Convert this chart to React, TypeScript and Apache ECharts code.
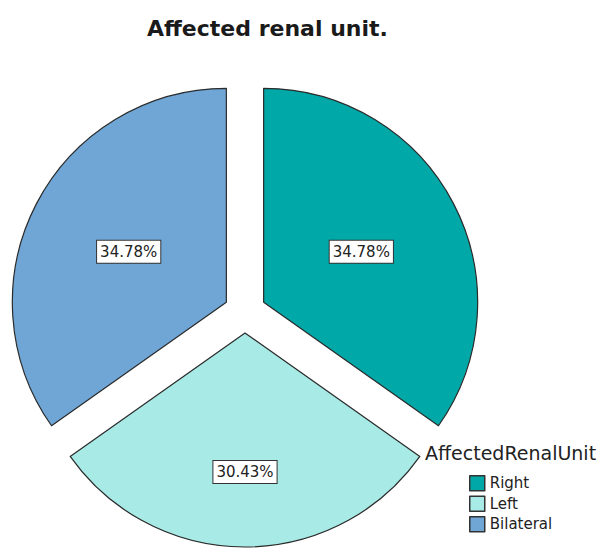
import React, { useEffect, useRef } from "react";
import * as echarts from "echarts";

const categories = ["Right", "Left", "Bilateral"];
const counts = [8, 7, 8];
const colors = ["#00A8A8", "#A8EAE6", "#6FA6D6"];
const chartTitle = "Affected renal unit.";
const legendTitle = "AffectedRenalUnit";

export default function App() {
  const ref = useRef<HTMLDivElement>(null);
  useEffect(() => {
    if (!ref.current) return;
    const chart = echarts.init(ref.current, null, { renderer: "svg" });
    const total = counts.reduce((a, b) => a + b, 0);
    chart.setOption({
      animation: false,
      backgroundColor: "#ffffff",
      title: {
        text: chartTitle,
        left: 147,
        top: 17,
        padding: 0,
        textStyle: {
          fontFamily: "DejaVu Sans",
          fontSize: 22,
          fontWeight: "bold",
          color: "#1a1a1a",
        },
      },
      graphic: [
        {
          type: "text",
          left: 425,
          top: 443,
          style: {
            text: legendTitle,
            font: "19px DejaVu Sans",
            fill: "#222222",
          },
        },
      ],
      legend: {
        orient: "vertical",
        left: 469,
        top: 475,
        padding: 0,
        itemWidth: 15,
        itemHeight: 15,
        itemGap: 4,
        icon: "rect",
        selectedMode: false,
        data: categories,
        itemStyle: { borderColor: "#333333", borderWidth: 1.5 },
        textStyle: {
          fontFamily: "DejaVu Sans",
          fontSize: 15,
          lineHeight: 15,
          color: "#222222",
        },
      },
      series: [
        {
          type: "pie",
          center: [245, 312],
          radius: 214,
          startAngle: 90,
          clockwise: true,
          selectedMode: "multiple",
          selectedOffset: 21,
          emphasis: { disabled: true },
          itemStyle: { borderColor: "#2a2a2a", borderWidth: 1.2 },
          label: {
            show: true,
            position: "inside",
            formatter: (p: any) => ((p.value / total) * 100).toFixed(2) + "%",
            fontFamily: "DejaVu Sans",
            fontSize: 15,
            color: "#222222",
            backgroundColor: "#ffffff",
            borderColor: "#333333",
            borderWidth: 1,
            padding: [4, 3, 3, 3],
          },
          labelLayout: (params: any) =>
            params.dataIndex === 1 ? { dy: 29 } : {},
          labelLine: { show: false },
          data: categories.map((name, i) => ({
            name,
            value: counts[i],
            selected: true,
            itemStyle: { color: colors[i] },
          })),
        },
      ],
    });
    return () => chart.dispose();
  }, []);
  return (
    <div
      ref={ref}
      style={{ position: "fixed", left: 0, top: 0, width: 599, height: 553 }}
    />
  );
}
